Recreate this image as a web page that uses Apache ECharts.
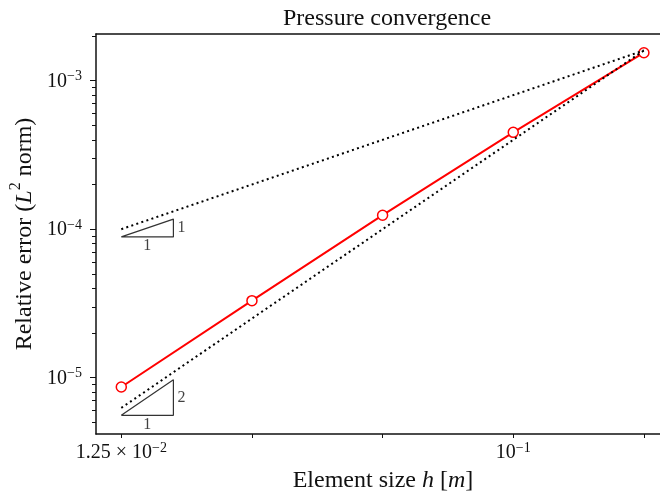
<!DOCTYPE html>
<html>
<head>
<meta charset="utf-8">
<script src="https://cdn.jsdelivr.net/npm/echarts@6/dist/echarts.min.js"></script>
<style>
  html, body { margin: 0; padding: 0; background: #fff; }
  #chart { width: 660px; height: 497px; }
</style>
</head>
<body>
<div id="chart"></div>
<script>
// ---- data ----
const hValues = [0.0125, 0.025, 0.05, 0.1, 0.2];
const pressureErrors = [8.64e-6, 3.30e-5, 1.242e-4, 4.49e-4, 1.545e-3];
const refX = [0.0125, 0.2];
const firstOrderRef = [1.0e-4, 1.6e-3];
const secondOrderRef = [6.25e-6, 1.6e-3];
const triX = [0.0125, 0.01648];
const tri1Y = [8.87e-5, 1.169e-4];
const tri2Y = [5.57e-6, 9.68e-6];
const tri1Labels = ['1', '1'];
const tri2Labels = ['1', '2'];
const xRange = [0.01093, 0.2297];
const yRange = [4.17e-6, 2.065e-3];
const xTickValues = [0.0125, 0.025, 0.05, 0.1, 0.2];
const xLabelValues = [0.0125, 0.1];
const xLabelMantissas = ['1.25 × ', ''];
const xLabelExponents = ['−2', '−1'];
const yMajorTicks = [1e-5, 1e-4, 1e-3];
const yMinorTicks = [5e-6, 6e-6, 7e-6, 8e-6, 9e-6,
  2e-5, 3e-5, 4e-5, 5e-5, 6e-5, 7e-5, 8e-5, 9e-5,
  2e-4, 3e-4, 4e-4, 5e-4, 6e-4, 7e-4, 8e-4, 9e-4,
  2e-3];

const FONT = 'Liberation Serif';
const zip = (xs, ys) => xs.map((x, i) => [x, ys[i]]);

function triangle(xs, ys) {
  return [[xs[0], ys[0]], [xs[1], ys[0]], [xs[1], ys[1]], [xs[0], ys[0]]];
}
function triLabelPoints(xs, ys, labels) {
  return [
    { value: [Math.sqrt(xs[0] * xs[1]), ys[0]], label: { position: 'bottom', distance: 1, formatter: labels[0] } },
    { value: [xs[1], Math.sqrt(ys[0] * ys[1])], label: { position: 'right', distance: 4, formatter: labels[1] } }
  ];
}

const tickRich = {
  b: { fontFamily: FONT, fontSize: 20, lineHeight: 22, verticalAlign: 'bottom', color: '#111' },
  s: { fontFamily: FONT, fontSize: 14, lineHeight: 13, verticalAlign: 'top', color: '#111' }
};
const nameRich = {
  n: { fontFamily: FONT, fontSize: 24, lineHeight: 28, verticalAlign: 'bottom', color: '#111' },
  i: { fontFamily: FONT, fontSize: 24, lineHeight: 28, verticalAlign: 'bottom', fontStyle: 'italic', color: '#111' },
  s: { fontFamily: FONT, fontSize: 16, lineHeight: 16, verticalAlign: 'top', color: '#111' }
};

const chart = echarts.init(document.getElementById('chart'), null, { renderer: 'canvas' });
const option = {
  animation: false,
  backgroundColor: '#fff',
  textStyle: { fontFamily: FONT },
  title: {
    text: 'Pressure convergence',
    left: 278, top: 2,
    textStyle: { fontFamily: FONT, fontSize: 24, fontWeight: 'normal', color: '#111' }
  },
  grid: { left: 96, top: 34, right: -10, bottom: 63, containLabel: false, outerBoundsMode: 'none' },
  xAxis: [
    {
      type: 'log', logBase: 10, min: xRange[0], max: xRange[1], position: 'bottom',
      name: '{n|Element size }{i|h}{n| [}{i|m}{n|]}',
      nameLocation: 'middle', nameGap: 31,
      nameTextStyle: { rich: nameRich },
      axisLine: { show: true, lineStyle: { color: '#111', width: 1.5 } },
      axisTick: { show: true, customValues: xTickValues, length: 4, lineStyle: { color: '#111', width: 1 } },
      axisLabel: {
        show: true, customValues: xLabelValues, margin: 7,
        formatter: function (v) {
          let idx = xLabelValues.findIndex(t => Math.abs(Math.log10(t) - Math.log10(v)) < 1e-6);
          if (idx < 0) return '';
          return '{b|' + xLabelMantissas[idx] + '10}{s|' + xLabelExponents[idx] + '}';
        },
        rich: tickRich
      },
      splitLine: { show: false }, minorTick: { show: false }
    },
    {
      type: 'log', logBase: 10, min: xRange[0], max: xRange[1], position: 'top',
      axisLine: { show: true, lineStyle: { color: '#111', width: 1.5 } },
      axisTick: { show: false }, axisLabel: { show: false }, splitLine: { show: false }
    }
  ],
  yAxis: [
    {
      type: 'log', logBase: 10, min: yRange[0], max: yRange[1], position: 'left',
      name: '{n|Relative error (}{i|L}{s|2}{n| norm)}',
      nameLocation: 'middle', nameGap: 57,
      nameTextStyle: { rich: nameRich },
      axisLine: { show: true, lineStyle: { color: '#111', width: 1.5 } },
      axisTick: { show: true, customValues: yMajorTicks, length: 6, lineStyle: { color: '#111', width: 1 } },
      axisLabel: {
        show: true, customValues: yMajorTicks, margin: 14,
        formatter: function (v) {
          const e = Math.round(-Math.log10(v));
          return '{b|10}{s|−' + e + '}';
        },
        rich: tickRich
      },
      splitLine: { show: false }, minorTick: { show: false }
    },
    {
      type: 'log', logBase: 10, min: yRange[0], max: yRange[1], position: 'left', offset: 0,
      axisLine: { show: false },
      axisTick: { show: true, customValues: yMinorTicks, length: 4, lineStyle: { color: '#111', width: 1 } },
      axisLabel: { show: false }, splitLine: { show: false }
    }
  ],
  series: [
    {
      name: 'Pressure error', type: 'line', clip: false, z: 2,
      data: zip(hValues, pressureErrors),
      symbol: 'circle', symbolSize: 10,
      itemStyle: { color: '#ffffff', borderColor: '#ff0000', borderWidth: 1.5 },
      lineStyle: { color: '#ff0000', width: 2 },
      emphasis: { disabled: true }
    },
    {
      name: 'First order', type: 'line', clip: false, z: 3,
      data: zip(refX, firstOrderRef), symbol: 'none',
      lineStyle: { color: '#000', width: 2, type: [2, 3.3], cap: 'butt' },
      emphasis: { disabled: true }
    },
    {
      name: 'Second order', type: 'line', clip: false, z: 3,
      data: zip(refX, secondOrderRef), symbol: 'none',
      lineStyle: { color: '#000', width: 2, type: [2, 3.3], cap: 'butt' },
      emphasis: { disabled: true }
    },
    {
      name: 'Triangle 1', type: 'line', clip: false, z: 3,
      data: triangle(triX, tri1Y), symbol: 'none',
      lineStyle: { color: '#333', width: 1.2 },
      emphasis: { disabled: true }
    },
    {
      name: 'Triangle 2', type: 'line', clip: false, z: 3,
      data: triangle(triX, tri2Y), symbol: 'none',
      lineStyle: { color: '#333', width: 1.2 },
      emphasis: { disabled: true }
    },
    {
      name: 'Triangle labels', type: 'scatter', clip: false, z: 4,
      symbolSize: 0,
      data: triLabelPoints(triX, tri1Y, tri1Labels).concat(triLabelPoints(triX, tri2Y, tri2Labels)),
      label: { show: true, fontFamily: FONT, fontSize: 16, color: '#111' },
      emphasis: { disabled: true },
      silent: true
    }
  ]
};
chart.setOption(option);
</script>
</body>
</html>
